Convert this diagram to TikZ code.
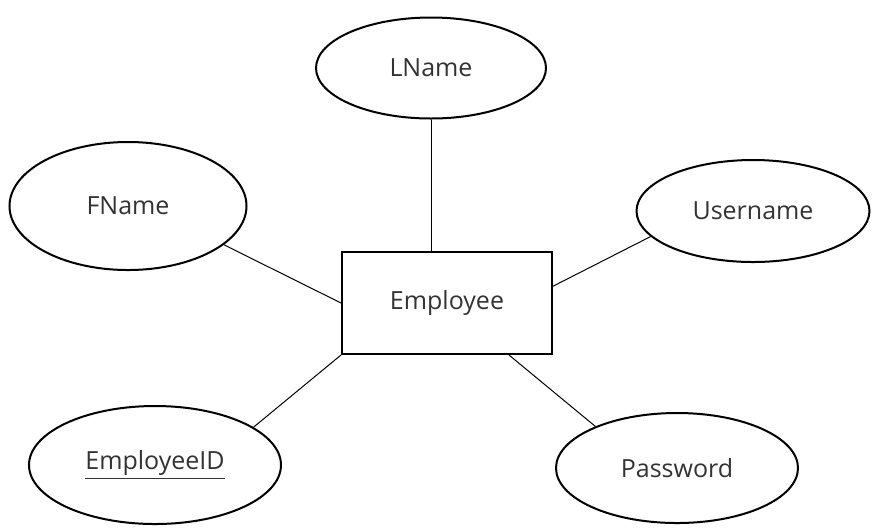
\documentclass[tikz,border=0pt]{standalone}
\usepackage{fontspec}
\setmainfont{Open Sans}
\usetikzlibrary{shapes.geometric}
\begin{document}
\begin{tikzpicture}[x=.5pt, y=-.5pt, inner sep=0pt,
    attr/.style={ellipse, draw, line width=1pt},
    ent/.style={rectangle, draw, line width=1pt, minimum width=105pt, minimum height=51pt},
    link/.style={line width=.5pt},
    font=\fontsize{12.5}{15}\selectfont, text=black!80]
  \useasboundingbox (0,0) rectangle (872,527);
  \node[ent] (emp) at (447,303) {Employee};
  \node[attr, minimum width=115pt, minimum height=50.5pt] (lname) at (431,68) {LName};
  \node[attr, minimum width=118.5pt, minimum height=64pt] (fname) at (128,206) {FName};
  \node[attr, minimum width=116.5pt, minimum height=51pt] (user) at (753,211) {Username};
  \node[attr, minimum width=126pt, minimum height=59pt] (eid) at (155,465) {\underline{EmployeeID}};
  \node[attr, minimum width=121pt, minimum height=55pt] (pwd) at (677,468) {Password};
  \draw[link] (lname.south) -- (lname.south |- emp.north);
  \draw[link] (fname.-22) -- (emp.west);
  \draw[link] (user.194) -- (emp.9);
  \draw[link] (eid.21) -- (emp.south west);
  \draw[link] (pwd.153) -- (emp.-40);
\end{tikzpicture}
\end{document}
